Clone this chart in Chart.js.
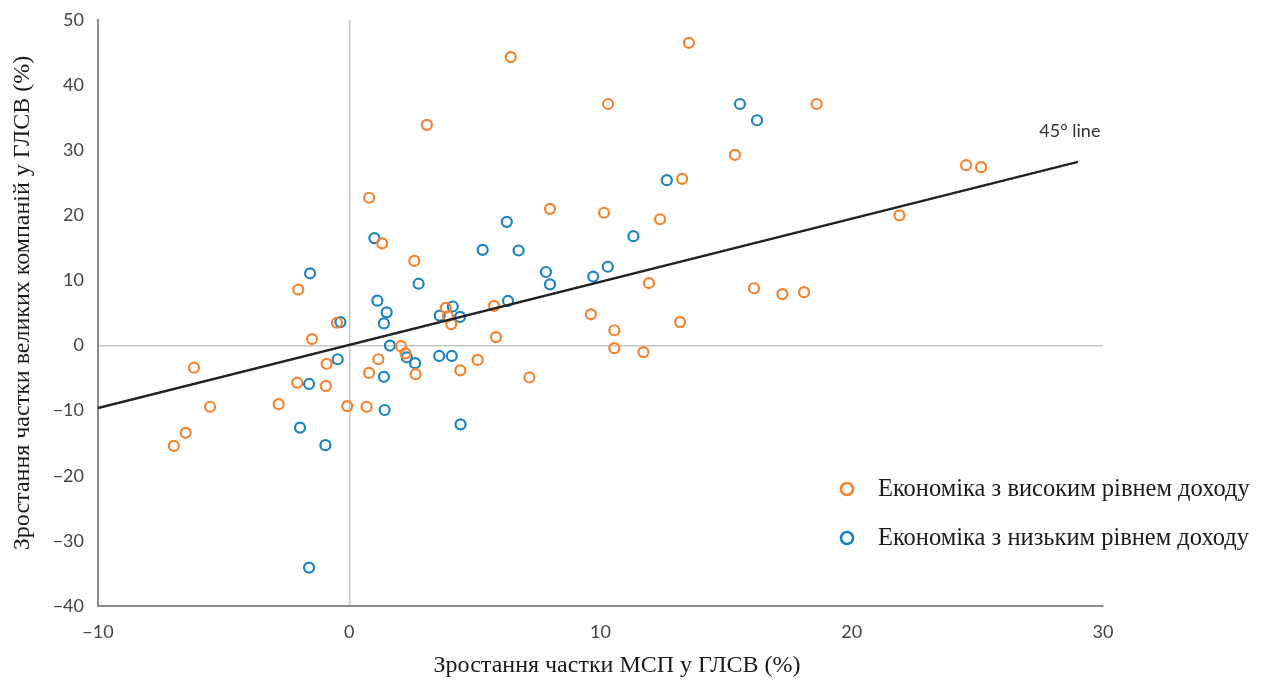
<!DOCTYPE html>
<html>
<head>
<meta charset="utf-8">
<script src="https://cdn.jsdelivr.net/npm/chart.js@4"></script>
<style>
  html, body { margin: 0; padding: 0; background: #fff; }
  #wrap { position: relative; width: 1269px; height: 681px; }
</style>
</head>
<body>
<div id="wrap"><canvas id="chart"></canvas></div>
<script>
// Economies with high income (orange)
var highX = [6.43, 13.52, 10.3, 18.6, 3.09, 15.35, 24.55, 25.15, 13.25, 0.79, 7.99, 10.14, 12.37, 21.9, 1.31, 2.59,
  11.93, 16.11, 17.24, 18.1, -2.03, 5.76, 3.84, 3.93, 4.06, 9.62, -0.49, 13.17, 10.55, 5.84, -1.48, 10.55,
  11.71, 2.06, 2.24, 1.16, 5.11, -6.18, -0.9, 0.79, 2.64, 4.42, 7.17, -2.07, -0.93, -5.54, -2.81, -0.08,
  0.69, -6.51, -6.98];
var highY = [44.3, 46.5, 37.1, 37.1, 33.9, 29.3, 27.7, 27.4, 25.6, 22.7, 21.0, 20.4, 19.4, 20.0, 15.7, 13.0,
  9.6, 8.8, 7.9, 8.2, 8.6, 6.1, 5.8, 4.5, 3.3, 4.8, 3.5, 3.6, 2.35, 1.3, 1.0, -0.4,
  -1.0, -0.1, -1.2, -2.1, -2.2, -3.4, -2.8, -4.2, -4.4, -3.8, -4.9, -5.7, -6.2, -9.4, -9.0, -9.3,
  -9.4, -13.4, -15.4];

// Economies with low income (blue)
var lowX = [1.0, -1.56, 2.76, 1.12, 1.49, 1.38, -0.35, 4.12, 3.6, 4.41, 1.62, -0.46, 2.29, 2.62, 3.58, 4.08,
  1.38, -1.6, -1.96, -0.95, 1.41, -1.6, 4.43, 5.31, 6.74, 6.27, 7.83, 7.99, 6.32, 9.71, 10.29, 11.31,
  12.64, 15.55, 16.23];
var lowY = [16.5, 11.1, 9.5, 6.9, 5.1, 3.4, 3.6, 6.0, 4.6, 4.4, 0.0, -2.1, -1.8, -2.7, -1.6, -1.6,
  -4.8, -5.9, -12.6, -15.3, -9.9, -34.1, -12.1, 14.7, 14.6, 19.0, 11.3, 9.4, 6.85, 10.6, 12.1, 16.8,
  25.4, 37.1, 34.6];

// reference line
var lineX = [-10, 29];
var lineY = [-9.6, 28.2];

var xTicks = [-10, 0, 10, 20, 30];
var yTicks = [-40, -30, -20, -10, 0, 10, 20, 30, 40, 50];

var seriesNames = ['Економіка з високим рівнем доходу', 'Економіка з низьким рівнем доходу'];
var lineLabel = '45° line';
var xTitle = 'Зростання частки МСП у ГЛСВ (%)';
var yTitle = 'Зростання частки великих компаній у ГЛСВ (%)';

var ORANGE = '#f5822e';
var BLUE = '#1b84c0';
var SERIF = '"Liberation Serif", "DejaVu Serif", serif';
var SANS = 'Lato, "Open Sans", sans-serif';

function toPoints(xs, ys) {
  return xs.map(function(x, i) { return { x: x, y: ys[i] }; });
}

function minusLabel(v) {
  return v < 0 ? '\u2212' + Math.abs(v) : String(v);
}

// titles, legend and line label drawn on the canvas
var extras = {
  id: 'extras',
  afterDraw: function(chart) {
    var ctx = chart.ctx;
    var xs = chart.scales.x, ys = chart.scales.y;
    ctx.save();

    // label at the end of the reference line
    var ex = xs.getPixelForValue(lineX[lineX.length - 1]);
    var ey = ys.getPixelForValue(lineY[lineY.length - 1]);
    ctx.font = '18px ' + SANS;
    ctx.fillStyle = '#333';
    ctx.textAlign = 'center';
    ctx.textBaseline = 'middle';
    ctx.fillText(lineLabel, ex - 8, ey - 31);

    // axis titles
    ctx.font = '24px ' + SERIF;
    ctx.fillStyle = '#1a1a1a';
    ctx.fillText(xTitle, 617, 666);
    ctx.save();
    ctx.translate(23, 303);
    ctx.rotate(-Math.PI / 2);
    ctx.fillText(yTitle, 0, 0);
    ctx.restore();

    // legend
    var colors = [ORANGE, BLUE];
    var lx = 847, ly = 489;
    ctx.textAlign = 'left';
    ctx.font = '24.5px ' + SERIF;
    seriesNames.forEach(function(name, i) {
      var y = ly + i * 49;
      ctx.beginPath();
      ctx.arc(lx, y, 6, 0, Math.PI * 2);
      ctx.lineWidth = 2.6;
      ctx.strokeStyle = colors[i];
      ctx.stroke();
      ctx.fillStyle = '#1a1a1a';
      ctx.fillText(name, 878, y + 1);
    });
    ctx.restore();
  }
};

var zeroGrid = function(c) { return c.tick && c.tick.value === 0 ? '#c6c6c6' : 'rgba(0,0,0,0)'; };

new Chart(document.getElementById('chart'), {
  type: 'scatter',
  data: {
    datasets: [
      {
        label: seriesNames[0],
        data: toPoints(highX, highY),
        borderColor: ORANGE,
        backgroundColor: 'rgba(255,255,255,0)',
        borderWidth: 2.2,
        pointRadius: 5,
        order: 2
      },
      {
        label: seriesNames[1],
        data: toPoints(lowX, lowY),
        borderColor: BLUE,
        backgroundColor: 'rgba(255,255,255,0)',
        borderWidth: 2.2,
        pointRadius: 5,
        order: 3
      },
      {
        label: lineLabel,
        data: toPoints(lineX, lineY),
        showLine: true,
        borderColor: '#222',
        borderWidth: 2.4,
        pointRadius: 0,
        order: 1
      }
    ]
  },
  options: {
    responsive: true,
    maintainAspectRatio: false,
    animation: false,
    layout: { autoPadding: false, padding: { top: 20, right: 166, left: 0, bottom: 0 } },
    plugins: {
      legend: { display: false },
      tooltip: { enabled: false }
    },
    scales: {
      x: {
        type: 'linear',
        min: xTicks[0],
        max: xTicks[xTicks.length - 1],
        afterBuildTicks: function(s) { s.ticks = xTicks.map(function(v) { return { value: v }; }); },
        afterFit: function(s) { s.height = 75; },
        grid: { color: zeroGrid, lineWidth: 1.5, drawTicks: false },
        border: { display: true, color: '#8c8c8c', width: 2 },
        ticks: {
          padding: 15,
          color: '#444',
          font: { family: SANS, size: 18 },
          callback: minusLabel
        }
      },
      y: {
        type: 'linear',
        min: yTicks[0],
        max: yTicks[yTicks.length - 1],
        afterBuildTicks: function(s) { s.ticks = yTicks.map(function(v) { return { value: v }; }); },
        afterFit: function(s) {
          s.width = 98;
          // the tick padding should only push labels sideways
          s.paddingTop = 11;
          s.paddingBottom = 11;
        },
        grid: { color: zeroGrid, lineWidth: 1.5, drawTicks: false },
        border: { display: true, color: '#8c8c8c', width: 2 },
        ticks: {
          padding: 14,
          color: '#444',
          font: { family: SANS, size: 18 },
          callback: minusLabel
        }
      }
    }
  },
  plugins: [extras]
});
</script>
</body>
</html>
